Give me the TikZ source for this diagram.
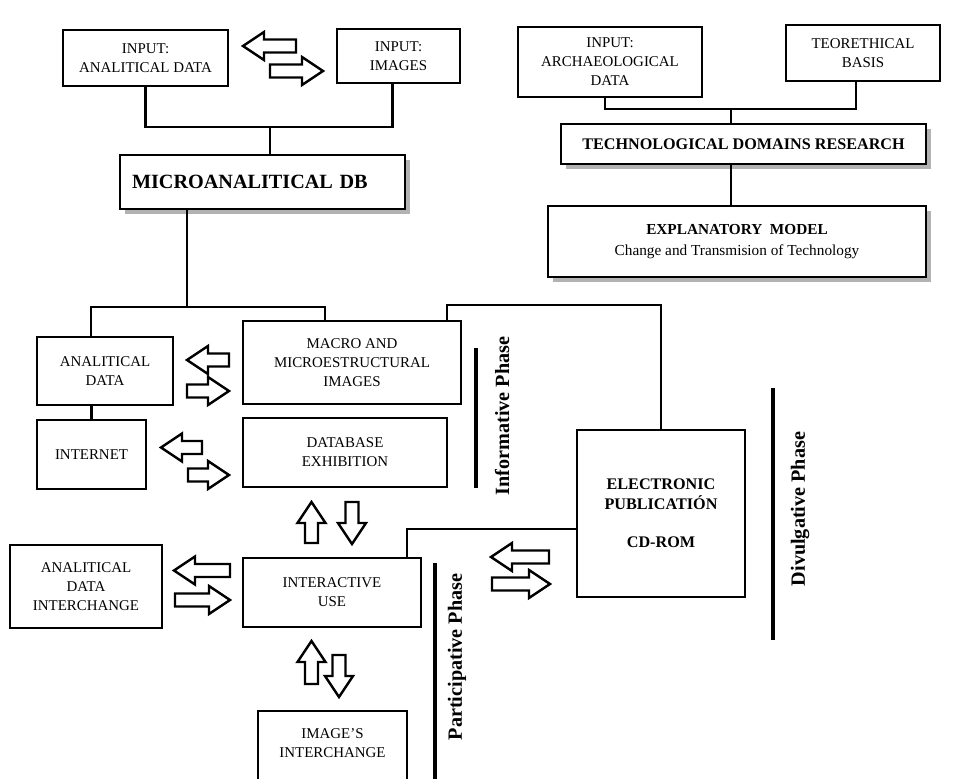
\documentclass[tikz,border=0pt]{standalone}
\usepackage{fontspec}
\setmainfont{Liberation Serif}
\usetikzlibrary{shadows}
\newcommand{\pu}{0.02cm}
% hollow block arrow: x, y, direction, length
\newcommand{\blkarrow}[4]{%
  \draw[shift={(#1,#2)},rotate=#3] (-#4/2,-6.5) -- (#4/2-21,-6.5) -- (#4/2-21,-14)
    -- (#4/2,0) -- (#4/2-21,14) -- (#4/2-21,6.5) -- (-#4/2,6.5) -- cycle;}

\begin{document}
\begin{tikzpicture}[x=\pu,y=-\pu,line width=1.4pt,line join=miter,
  box/.style={draw,align=center,inner sep=0pt,font=\fontsize{8.5}{10.8}\selectfont},
  sz/.style 2 args={minimum width=#1*\pu,minimum height=#2*\pu},
  shbox/.style={box,fill=white,drop shadow={shadow xshift=0.1cm,shadow yshift=-0.1cm,fill=gray!60,opacity=1}},
  phase/.style={font=\fontsize{11.5}{13}\selectfont\bfseries,rotate=90},
  bar/.style={line width=2.2pt}]
  \useasboundingbox (0,0) rectangle (974,778);
  % ===== inputs and microanalytical db =====
  \node[box,sz={165}{56}] (adin) at (145.5,58) {INPUT:\\ANALITICAL DATA};
  \node[box,sz={123}{54}] (imgin) at (398.5,56) {INPUT:\\IMAGES};
  \blkarrow{269.5}{46}{180}{53}
  \blkarrow{296.5}{71}{0}{53}
  \node[shbox,sz={285}{54},text width=261*\pu,align=left,
    font=\fontsize{11.5}{13}\selectfont\bfseries] (micro) at (262.5,182) {MICROANALITICAL DB};
  \coordinate (t1) at (270,127);
  \draw (adin.south) |- (t1) -| ([xshift=-6*\pu]imgin.south);
  \draw (t1) -- (t1 |- micro.north);
  % ===== archaeological side =====
  \node[box,sz={184}{70}] (arch) at (610,62) {INPUT:\\ARCHAEOLOGICAL\\DATA};
  \node[box,sz={154}{56}] (teor) at (863,53) {TEORETHICAL\\BASIS};
  \node[shbox,sz={365}{40},font=\fontsize{9.2}{11}\selectfont\bfseries] (tech) at (743.5,144)
    {TECHNOLOGICAL DOMAINS RESEARCH};
  \node[shbox,sz={378}{71},font=\fontsize{8.7}{11}\selectfont] (expl) at (737,241.5)
    {\textbf{EXPLANATORY\ \ MODEL}\\[1pt]Change and Transmision of Technology};
  \coordinate (t5) at (731,109);
  \draw ([xshift=-5*\pu]arch.south) |- (t5) -| ([xshift=-7*\pu]teor.south);
  \draw (t5) -- (t5 |- tech.north);
  \draw (tech.south -| t5) -- (expl.north -| t5);
  % ===== informative phase =====
  \node[box,sz={136}{68}] (anl) at (105,371) {ANALITICAL\\DATA};
  \node[box,sz={218}{83}] (macro) at (352,362.5) {MACRO AND\\MICROESTRUCTURAL\\IMAGES};
  \node[box,sz={109}{69}] (inet) at (91.5,454.5) {INTERNET};
  \node[box,sz={204}{69}] (dbex) at (345,452.5) {DATABASE\\EXHIBITION};
  \blkarrow{208}{360}{180}{42}
  \blkarrow{208}{391}{0}{42}
  \blkarrow{181.5}{447.5}{180}{41}
  \blkarrow{208.5}{475}{0}{41}
  \coordinate (t2) at (187,307);
  \draw (t2 |- micro.south) -- (t2);
  \draw ([xshift=-14*\pu]anl.north) |- (t2) -| ([xshift=-27*\pu]macro.north);
  \draw (inet.north) -- (inet.north |- anl.south);
  \draw[bar] (476,348) -- (476,488);
  \node[phase] (info) at (502,416) {Informative Phase};
  % ===== participative phase =====
  \blkarrow{311.5}{522.5}{90}{41}
  \blkarrow{352}{523}{270}{42}
  \node[box,sz={152}{83}] (adint) at (86,586.5) {ANALITICAL\\DATA\\INTERCHANGE};
  \node[box,sz={178}{69}] (iuse) at (332,592.5) {INTERACTIVE\\USE};
  \blkarrow{202}{570.5}{180}{56}
  \blkarrow{202.5}{600}{0}{55}
  \blkarrow{311.5}{662.5}{90}{43}
  \blkarrow{339}{676}{270}{42}
  \node[box,sz={149}{80}] (imgx) at (332.5,751) {};
  \node[align=center,inner sep=0pt,font=\fontsize{8.5}{10.8}\selectfont] (imgxt)
    at ([yshift=8*\pu]imgx.center) {IMAGE'S\\INTERCHANGE};
  \draw[bar] (435,563) -- (435,790);
  \node[phase] (parti) at (457,657) {Participative Phase};
  % ===== divulgative phase =====
  \node[box,sz={168}{167},font=\fontsize{9.2}{11}\selectfont\bfseries] (elec) at (661,513.5)
    {ELECTRONIC\\PUBLICATIÓN\\[11pt]CD-ROM};
  \blkarrow{520}{557}{180}{58}
  \blkarrow{521}{584}{0}{58}
  \coordinate (t3) at (447,305);
  \draw (t3 |- macro.north) -- (t3) -| (elec.north);
  \coordinate (t4) at (407,529);
  \draw (t4 |- iuse.north) -- (t4) -- (t4 -| elec.west);
  \draw[bar] (773,388) -- (773,640);
  \node[phase] (divul) at (800,509) {Divulgative Phase};
\end{tikzpicture}
\end{document}
